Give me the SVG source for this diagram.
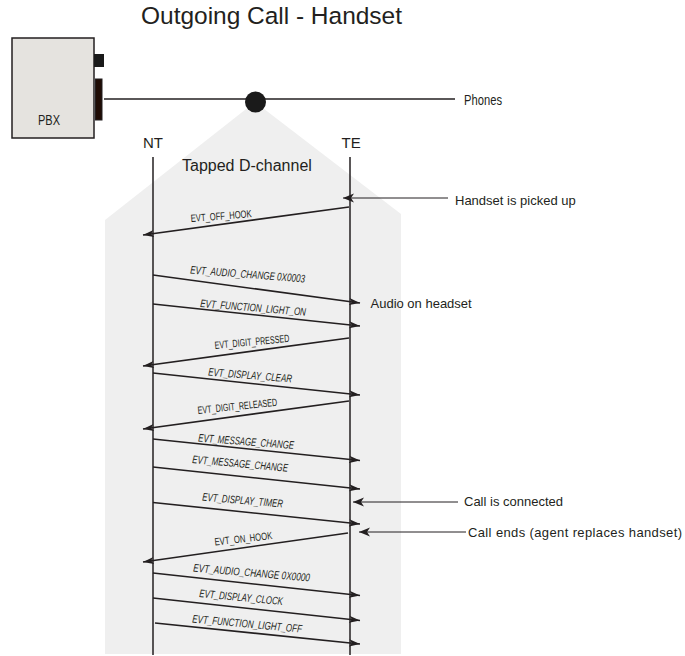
<svg xmlns="http://www.w3.org/2000/svg" width="685" height="656" viewBox="0 0 685 656">
<style>
  .t{font-family:"Liberation Sans",Arial,sans-serif;fill:#231f20}
  .ln{stroke:#231f20;stroke-width:1.5;fill:none}
  .msg{stroke:#231f20;stroke-width:1.6;fill:none;marker-end:url(#ah)}
  .ann{stroke:#231f20;stroke-width:1;fill:none;marker-end:url(#ah2)}
  .lbl{font-family:"Liberation Sans",Arial,sans-serif;fill:#231f20;font-size:11px;font-style:italic}
  .lbl2{font-family:"Liberation Sans",Arial,sans-serif;fill:#231f20;font-size:10.5px}
</style>
<defs>
  <marker id="ah" markerUnits="userSpaceOnUse" markerWidth="12" markerHeight="10" viewBox="0 0 12 10" refX="11" refY="5" orient="auto">
    <path d="M0,1.4 L11,5 L0,8.6 L2.8,5 z" fill="#231f20"/>
  </marker>
  <marker id="ah2" markerUnits="userSpaceOnUse" markerWidth="12" markerHeight="10" viewBox="0 0 12 10" refX="11" refY="5" orient="auto">
    <path d="M0,0.6 L11,5 L0,9.4 L3,5 z" fill="#231f20"/>
  </marker>
</defs>
<rect width="685" height="656" fill="#ffffff"/>

<g id="tap-area">
  <polygon points="255,102 105,220 105,654 401,654 401,214" fill="#efefef"/>
</g>

<g id="title">
  <text class="t" x="141" y="24" font-size="24.5" textLength="261">Outgoing Call - Handset</text>
</g>

<g id="pbx">
  <rect x="12" y="38" width="82" height="100" fill="#e5e3df" stroke="#231f20" stroke-width="1.5"/>
  <rect x="94" y="54" width="10" height="13" fill="#1a1a1a"/>
  <rect x="95.5" y="79" width="6.5" height="41" fill="#1f0c05" stroke="#231f20" stroke-width="1"/>
  <text class="t" x="38" y="125" font-size="14" textLength="22" lengthAdjust="spacingAndGlyphs">PBX</text>
</g>

<g id="bus">
  <line class="ln" x1="104" y1="99" x2="455" y2="99"/>
  <circle cx="255.5" cy="102" r="10.5" fill="#1a1a1a"/>
  <text class="t" x="464" y="104.5" font-size="14" textLength="38" lengthAdjust="spacingAndGlyphs">Phones</text>
</g>

<g id="nt">
  <text class="t" x="143" y="148" font-size="15">NT</text>
  <line class="ln" x1="153" y1="157" x2="153" y2="655"/>
</g>
<g id="te">
  <text class="t" x="341.5" y="148" font-size="15">TE</text>
  <line class="ln" x1="350" y1="157" x2="350" y2="655"/>
</g>

<g id="tapped-label">
  <text class="t" x="182" y="171" font-size="16">Tapped D-channel</text>
</g>

<g id="connectors">
  <line class="msg" x1="349" y1="207" x2="143" y2="235"/>
  <line class="msg" x1="153" y1="275" x2="360" y2="303"/>
  <line class="msg" x1="153" y1="304" x2="360" y2="326"/>
  <line class="msg" x1="349" y1="338" x2="143" y2="366"/>
  <line class="msg" x1="153" y1="373" x2="360" y2="395"/>
  <line class="msg" x1="349" y1="401" x2="143" y2="429"/>
  <line class="msg" x1="153" y1="439" x2="360" y2="460.5"/>
  <line class="msg" x1="153" y1="467" x2="360" y2="489"/>
  <line class="msg" x1="153" y1="502.5" x2="360" y2="524"/>
  <line class="msg" x1="348" y1="533" x2="143" y2="562"/>
  <line class="msg" x1="153" y1="573" x2="360" y2="595.5"/>
  <line class="msg" x1="153" y1="598" x2="360" y2="620.5"/>
  <line class="msg" x1="155" y1="623" x2="360" y2="644"/>

  <line class="ann" x1="448" y1="198" x2="343" y2="198"/>
  <line class="ann" x1="458" y1="502" x2="353" y2="502"/>
  <line class="ann" x1="466" y1="532" x2="359" y2="532"/>
</g>

<g id="message-labels">
  <text class="lbl2" transform="translate(191,222) rotate(-4.5)" textLength="61" lengthAdjust="spacingAndGlyphs">EVT_OFF_HOOK</text>
  <text class="lbl" transform="translate(190,273.5) rotate(4.5)" textLength="115" lengthAdjust="spacingAndGlyphs">EVT_AUDIO_CHANGE 0X0003</text>
  <text class="lbl" transform="translate(200,307) rotate(4.7)" textLength="106" lengthAdjust="spacingAndGlyphs">EVT_FUNCTION_LIGHT_ON</text>
  <text class="lbl2" transform="translate(215,349) rotate(-5.5)" textLength="75" lengthAdjust="spacingAndGlyphs">EVT_DIGIT_PRESSED</text>
  <text class="lbl" transform="translate(208,375.5) rotate(4.8)" textLength="84" lengthAdjust="spacingAndGlyphs">EVT_DISPLAY_CLEAR</text>
  <text class="lbl2" transform="translate(198,414) rotate(-6)" textLength="80" lengthAdjust="spacingAndGlyphs">EVT_DIGIT_RELEASED</text>
  <text class="lbl" transform="translate(198,441.5) rotate(4.5)" textLength="96" lengthAdjust="spacingAndGlyphs">EVT_MESSAGE_CHANGE</text>
  <text class="lbl" transform="translate(192,463) rotate(5.2)" textLength="96" lengthAdjust="spacingAndGlyphs">EVT_MESSAGE_CHANGE</text>
  <text class="lbl" transform="translate(202,500.5) rotate(5)" textLength="81" lengthAdjust="spacingAndGlyphs">EVT_DISPLAY_TIMER</text>
  <text class="lbl2" transform="translate(215,545.5) rotate(-6.5)" textLength="58" lengthAdjust="spacingAndGlyphs">EVT_ON_HOOK</text>
  <text class="lbl" transform="translate(193,571.5) rotate(4.9)" textLength="117" lengthAdjust="spacingAndGlyphs">EVT_AUDIO_CHANGE 0X0000</text>
  <text class="lbl" transform="translate(199,597) rotate(5.5)" textLength="84" lengthAdjust="spacingAndGlyphs">EVT_DISPLAY_CLOCK</text>
  <text class="lbl" transform="translate(192,622.5) rotate(5.3)" textLength="110" lengthAdjust="spacingAndGlyphs">EVT_FUNCTION_LIGHT_OFF</text>
</g>

<g id="annotations">
  <text class="t" x="455" y="205" font-size="13">Handset is picked up</text>
  <text class="t" x="370.5" y="308" font-size="13">Audio on headset</text>
  <text class="t" x="464" y="506" font-size="13">Call is connected</text>
  <text class="t" x="468" y="537" font-size="13" textLength="214">Call ends (agent replaces handset)</text>
</g>
</svg>
